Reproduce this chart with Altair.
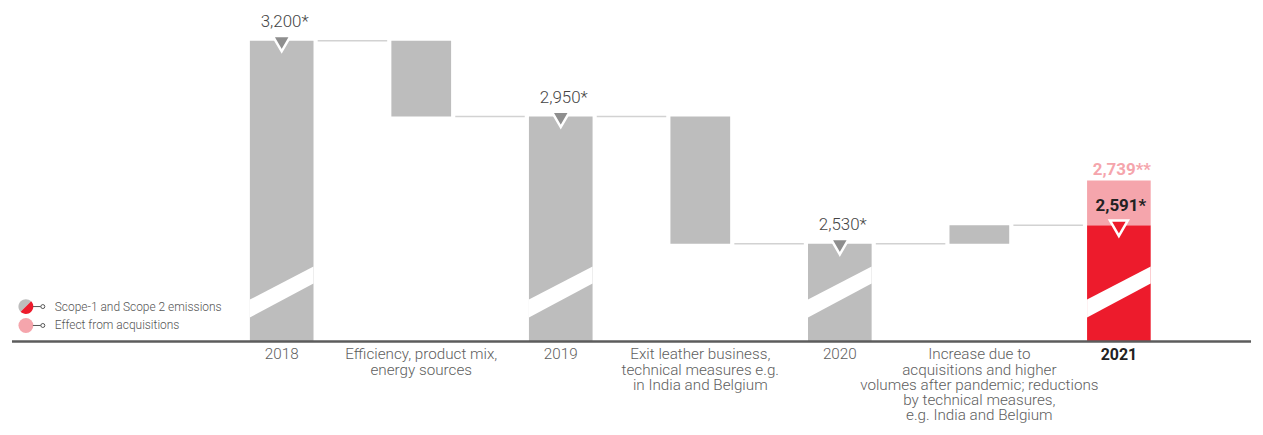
import altair as alt
import pandas as pd

# ---------------- data ----------------
categories = [
    "2018",
    "Efficiency, product mix,\nenergy sources",
    "2019",
    "Exit leather business,\ntechnical measures e.g.\nin India and Belgium",
    "2020",
    "Increase due to\nacquisitions and higher\nvolumes after pandemic; reductions\nby technical measures,\ne.g. India and Belgium",
    "2021",
]
kinds = ["total", "change", "total", "change", "total", "change", "total"]
values = [3200, -250, 2950, -420, 2530, 61, 2591]
value_labels = ["3,200*", "", "2,950*", "", "2,530*", "", "2,591*"]
acq_total = 2739
acq_label = "2,739**"
legend_labels = ["Scope-1 and Scope 2 emissions", "Effect from acquisitions"]

# ---------------- style ----------------
GRAY = "#bdbdbd"
DARK_GRAY = "#8e8e8e"
RED = "#ed1b2c"
PINK = "#f5a5ac"
CONNECT = "#d2d2d2"
AXIS = "#5c5c5c"
FONT = "Roboto"
W, H = 1245, 332
Y_BASE = 2208   # value at the (broken) baseline
Y_TOP = 3298.4
X_DOM = [-1.933, 6.947]
HW_TOTAL = 0.228
HW_CHANGE = 0.214
GAP = 0.03
SL_LEFT = (2287, 2346)
SL_RIGHT = (2399, 2455)
TRI = "M-1,-0.55 L1,-0.55 L0,1.18 Z"   # downward marker, hanging below its value

last = len(values) - 1
bars, conns, tris, labs = [], [], [], []
slash_frames = []
level = None
for i, (k, v) in enumerate(zip(kinds, values)):
    if k == "total":
        y0, y1 = Y_BASE, v
        level = v
        hw = HW_TOTAL
    else:
        y0, y1 = level, level + v
        level = level + v
        hw = HW_CHANGE
    bars.append(dict(i=i, x0=i - hw, x1=i + hw, y0=y0, y1=y1,
                     color=RED if i == last else GRAY, hw=hw, level=level))
    if k == "total":
        slash_frames.append(pd.DataFrame({"sx": [i - hw, i + hw],
                                          "lo": [SL_LEFT[0], SL_RIGHT[0]],
                                          "hi": [SL_LEFT[1], SL_RIGHT[1]]}))
        tris.append(dict(i=i, y=v))
        labs.append(dict(i=i, y=v, text=value_labels[i]))

for a, b in zip(bars[:-1], bars[1:]):
    conns.append(dict(x0=a["i"] + a["hw"] + GAP, x1=b["i"] - b["hw"] - GAP, lvl=a["level"]))

bars_df = pd.DataFrame(bars)
conn_df = pd.DataFrame(conns)
tri_df = pd.DataFrame(tris)
lab_df = pd.DataFrame(labs)
acq_df = pd.DataFrame([dict(x0=last - HW_TOTAL, x1=last + HW_TOTAL, y0=values[last], y1=acq_total,
                            i=last, text=acq_label)])
cat_df = pd.DataFrame({"i": list(range(len(categories))), "cat": categories})
base_df = pd.DataFrame([dict(x0=X_DOM[0], x1=X_DOM[1], y=Y_BASE)])

xscale = alt.Scale(domain=X_DOM, nice=False, zero=False)
yscale = alt.Scale(domain=[Y_BASE, Y_TOP], nice=False, zero=False)


def X(f):
    return alt.X(f, scale=xscale, axis=None)


def Y(f):
    return alt.Y(f, scale=yscale, axis=None)


connectors = alt.Chart(conn_df).mark_rule(color=CONNECT, strokeWidth=1.5).encode(
    x=X("x0:Q"), x2="x1:Q", y=Y("lvl:Q")
)

bar_layer = alt.Chart(bars_df).mark_rect().encode(
    x=X("x0:Q"), x2="x1:Q", y=Y("y0:Q"), y2="y1:Q",
    color=alt.Color("color:N", scale=None),
)

acq_layer = alt.Chart(acq_df).mark_rect(color=PINK).encode(
    x=X("x0:Q"), x2="x1:Q", y=Y("y0:Q"), y2="y1:Q"
)

slash_layers = [
    alt.Chart(df).mark_area(color="white", opacity=1).encode(x=X("sx:Q"), y=Y("lo:Q"), y2="hi:Q")
    for df in slash_frames
]

baseline = alt.Chart(base_df).mark_rule(color=AXIS, strokeWidth=2.5).encode(
    x=X("x0:Q"), x2="x1:Q", y=Y("y:Q")
)

tri_gray = alt.Chart(tri_df[tri_df["i"] != last]).mark_point(
    shape=TRI, size=324, filled=True, color=DARK_GRAY, stroke="white", strokeWidth=2.5, opacity=1
).encode(x=X("i:Q"), y=Y("y:Q"))

tri_red = alt.Chart(tri_df[tri_df["i"] == last]).mark_point(
    shape=TRI, size=324, filled=True, color=RED, stroke="white", strokeWidth=2.5, opacity=1
).encode(x=X("i:Q"), y=Y("y:Q"))

gray_labels = alt.Chart(lab_df[lab_df["i"] != last]).mark_text(
    align="center", baseline="alphabetic", dy=-14, dx=3, fontSize=17, font=FONT, fontWeight=300, color="#444444"
).encode(x=X("i:Q"), y=Y("y:Q"), text="text:N")

last_label = alt.Chart(lab_df[lab_df["i"] == last]).mark_text(
    align="center", baseline="alphabetic", dy=-14, dx=2, fontSize=17, font=FONT, fontWeight="bold", color="#222222"
).encode(x=X("i:Q"), y=Y("y:Q"), text="text:N")

acq_text = alt.Chart(acq_df).mark_text(
    align="center", baseline="alphabetic", dy=-6, dx=3, fontSize=17, font=FONT, fontWeight="bold", color=PINK
).encode(x=X("i:Q"), y=Y("y1:Q"), text="text:N")

cat_labels = alt.Chart(cat_df[cat_df["i"] != last]).mark_text(
    align="center", baseline="top", lineBreak="\n", lineHeight=15.3, fontSize=15.3, font=FONT,
    fontWeight=300, color="#5e5e5e"
).encode(x=X("i:Q"), y=alt.value(H + 6), text="cat:N")

cat_last = alt.Chart(cat_df[cat_df["i"] == last]).mark_text(
    align="center", baseline="top", fontSize=16, font=FONT, fontWeight="bold", color="#222222"
).encode(x=X("i:Q"), y=alt.value(H + 6), text="cat:N")

# ---------------- legend (custom) ----------------
one = pd.DataFrame({"k": [0]})
leg_layers = []
LX, LY = 14, 297
ROW = 19
HALF_RED = "M0.7071,-0.7071 A1,1 0 0,1 -0.7071,0.7071 Z"
HALF_GRAY = "M-0.7071,0.7071 A1,1 0 0,1 0.7071,-0.7071 Z"
leg_layers.append(alt.Chart(one).mark_point(shape=HALF_GRAY, size=225, filled=True, color=GRAY, opacity=1).encode(
    x=alt.value(LX), y=alt.value(LY)))
leg_layers.append(alt.Chart(one).mark_point(shape=HALF_RED, size=225, filled=True, color=RED, opacity=1).encode(
    x=alt.value(LX), y=alt.value(LY)))
leg_layers.append(alt.Chart(one).mark_point(shape="circle", size=225, filled=True, color=PINK, opacity=1).encode(
    x=alt.value(LX), y=alt.value(LY + ROW)))
for r, txt in enumerate(legend_labels):
    yy = LY + r * ROW
    leg_layers.append(alt.Chart(one).mark_rule(color="#555555", strokeWidth=1).encode(
        x=alt.value(LX + 7), x2=alt.value(LX + 15), y=alt.value(yy)))
    leg_layers.append(alt.Chart(one).mark_point(shape="circle", size=16, filled=True, color="white",
                                                stroke="#555555", strokeWidth=1, opacity=1).encode(
        x=alt.value(LX + 17), y=alt.value(yy)))
    leg_layers.append(alt.Chart(pd.DataFrame({"t": [txt]})).mark_text(
        align="left", baseline="middle", fontSize=12, font=FONT, fontWeight=300, color="#555555").encode(
        x=alt.value(LX + 29), y=alt.value(yy), text="t:N"))

chart = alt.layer(
    connectors, bar_layer, acq_layer, *slash_layers, baseline, tri_gray, tri_red, gray_labels, last_label,
    acq_text, cat_labels, cat_last, *leg_layers
).properties(
    width=W,
    height=H,
    padding=2,
).configure_view(stroke=None)

chart.save("out.html", embed_options={"renderer": "svg", "actions": False})
